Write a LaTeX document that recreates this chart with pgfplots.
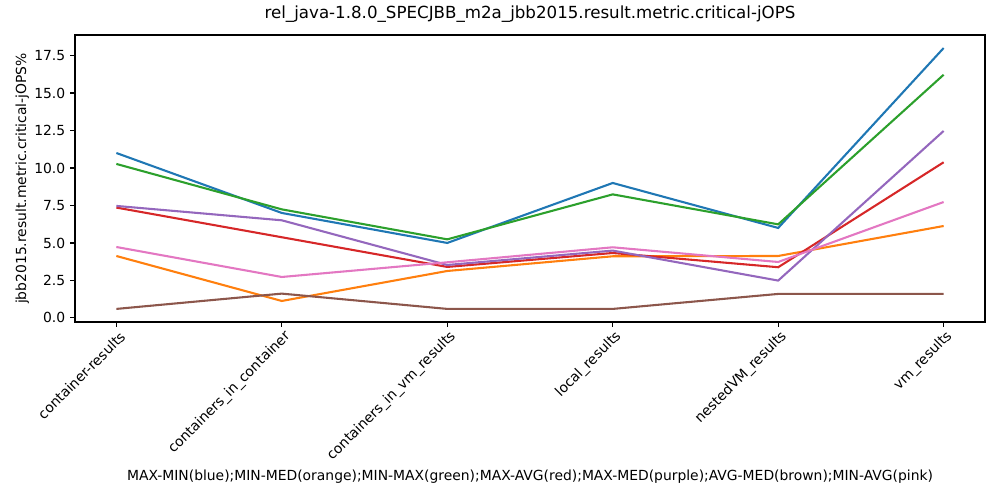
\documentclass[border=0pt]{standalone}
\usepackage{fontspec}
\setmainfont{DejaVu Sans}
\usepackage{pgfplots}
\pgfplotsset{compat=1.18}
\definecolor{tabblue}{HTML}{1F77B4}
\definecolor{taborange}{HTML}{FF7F0E}
\definecolor{tabgreen}{HTML}{2CA02C}
\definecolor{tabred}{HTML}{D62728}
\definecolor{tabpurple}{HTML}{9467BD}
\definecolor{tabbrown}{HTML}{8C564B}
\definecolor{tabpink}{HTML}{E377C2}
\begin{document}
\begin{tikzpicture}
\begin{axis}[
  at={(0,0)}, anchor=south west,
  scale only axis,
  width=655.2pt, height=206.6pt,
  xmin=-0.25, xmax=5.25,
  ymin=-0.27, ymax=18.87,
  xtick={0,1,2,3,4,5},
  xticklabels={container-results,containers\_in\_container,containers\_in\_vm\_results,local\_results,nestedVM\_results,vm\_results},
  ytick={0,2.5,5,7.5,10,12.5,15,17.5},
  yticklabel style={/pgf/number format/.cd,fixed,fixed zerofill,precision=1,assume math mode=true},
  tick label style={font=\fontsize{10}{12}\selectfont},
  x tick label style={rotate=45, anchor=east, inner sep=2pt, xshift=1.5pt, yshift=-7pt},
  tick align=outside, tick pos=left,
  major tick length=3.5pt,
  axis line style={line width=0.8pt},
  every tick/.style={black, line width=0.8pt},
  title={rel\_java-1.8.0\_SPECJBB\_m2a\_jbb2015.result.metric.critical-jOPS},
  title style={font=\fontsize{12}{14}\selectfont, at={(rel axis cs:0.5,1)}, anchor=base, yshift=6pt},
  xlabel={MAX-MIN(blue);MIN-MED(orange);MIN-MAX(green);MAX-AVG(red);MAX-MED(purple);AVG-MED(brown);MIN-AVG(pink)},
  xlabel style={font=\fontsize{10}{12}\selectfont, at={(rel axis cs:0.5,0)}, anchor=center, yshift=-111.6pt},
  ylabel={jbb2015.result.metric.critical-jOPS\%},
  ylabel style={font=\fontsize{10}{12}\selectfont, at={(rel axis cs:0,0.5)}, anchor=center, rotate=0, yshift=38pt},
  every axis plot/.append style={line width=1.5pt, no markers},
]
\addplot[tabblue] coordinates {(0,11.0) (1,7.0) (2,5.0) (3,9.0) (4,6.0) (5,18.0)};
\addplot[taborange] coordinates {(0,4.13) (1,1.13) (2,3.13) (3,4.11) (4,4.13) (5,6.13)};
\addplot[tabgreen] coordinates {(0,10.27) (1,7.24) (2,5.24) (3,8.24) (4,6.24) (5,16.22)};
\addplot[tabred] coordinates {(0,7.36) (1,5.38) (2,3.40) (3,4.33) (4,3.38) (5,10.38)};
\addplot[tabpurple] coordinates {(0,7.47) (1,6.51) (2,3.53) (3,4.49) (4,2.49) (5,12.47)};
\addplot[tabbrown] coordinates {(0,0.6) (1,1.62) (2,0.6) (3,0.6) (4,1.6) (5,1.6)};
\addplot[tabpink] coordinates {(0,4.73) (1,2.73) (2,3.71) (3,4.71) (4,3.73) (5,7.73)};
\end{axis}
\pgfresetboundingbox
\path[use as bounding box] (-54pt,-128.16pt) rectangle (666pt,231.8pt);
\end{tikzpicture}
\end{document}
